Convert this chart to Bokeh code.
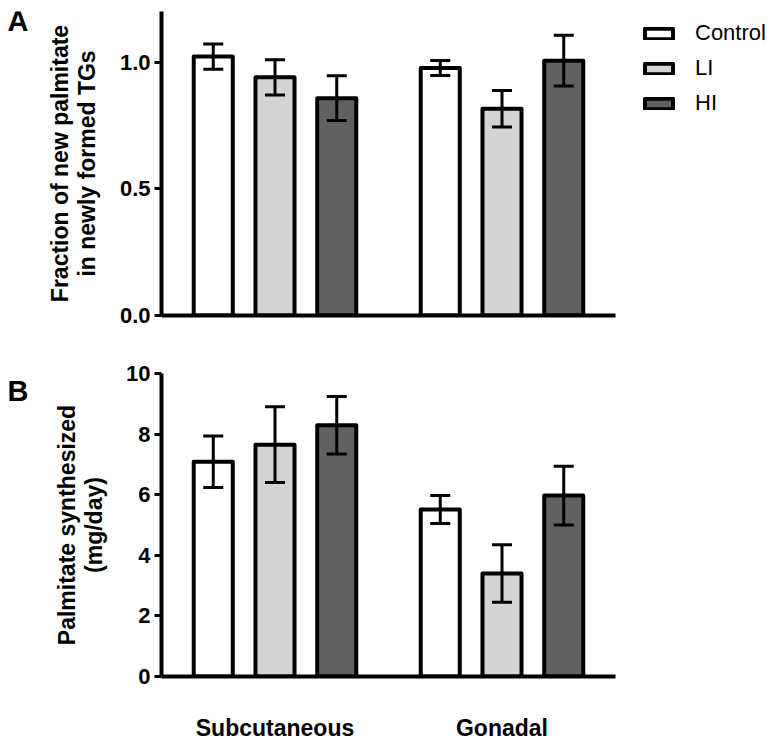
from bokeh.plotting import figure
from bokeh.models import (ColumnDataSource, FactorRange, Range1d, Whisker, TeeHead,
                          Legend, LegendItem, FixedTicker, NumeralTickFormatter)
from bokeh.transform import dodge
from bokeh.layouts import column, row
from bokeh.embed import file_html
from bokeh.resources import INLINE
from bokeh.core.properties import value

# ---------------- data ----------------
tissues = ["Subcutaneous", "Gonadal"]
groups = ["Control", "LI", "HI"]
fill_colors = ["#ffffff", "#d4d4d4", "#616161"]
offsets = [-0.272, 0.0, 0.272]

frac_control = [1.022, 0.977]
frac_control_err = [0.050, 0.030]
frac_li = [0.940, 0.816]
frac_li_err = [0.070, 0.072]
frac_hi = [0.858, 1.006]
frac_hi_err = [0.088, 0.100]

synth_control = [7.09, 5.51]
synth_control_err = [0.85, 0.46]
synth_li = [7.65, 3.40]
synth_li_err = [1.25, 0.95]
synth_hi = [8.29, 5.97]
synth_hi_err = [0.95, 0.97]

frac_ticks = [0.0, 0.5, 1.0]
synth_ticks = [0, 2, 4, 6, 8, 10]

panel_letters = ["A", "B"]

FONT = "Liberation Sans"
LETTER_W = 40


def letter_figure(letter, height, baseline_from_top):
    f = figure(width=LETTER_W, height=height, x_range=Range1d(0, LETTER_W),
               y_range=Range1d(0, height), min_border=0,
               output_backend="svg", toolbar_location=None)
    f.axis.visible = False
    f.grid.visible = False
    f.outline_line_color = None
    f.text(x=[7], y=[height - baseline_from_top], text=[letter], text_font=value(FONT),
           text_font_style="bold", text_font_size="29px", text_color="black",
           text_baseline="alphabetic", text_align="left")
    return f


def make_panel(means, errs, y_end, ticks, fmt, ylabel, top_border,
               frame_h, bottom_border, show_x_labels, with_legend, label_standoff):
    data = {"tissue": tissues}
    for g, m, e in zip(groups, means, errs):
        data[g] = m
        data[g + "_up"] = [a + b for a, b in zip(m, e)]
        data[g + "_lo"] = [a - b for a, b in zip(m, e)]
    src = ColumnDataSource(data)

    p = figure(x_range=FactorRange(factors=tissues, range_padding=0.0),
               y_range=Range1d(0, y_end),
               frame_width=454, frame_height=frame_h,
               min_border_left=161 - LETTER_W, min_border_top=top_border,
               min_border_bottom=bottom_border, min_border_right=10,
               output_backend="svg", toolbar_location=None,
               background_fill_color="white", border_fill_color="white")
    p.outline_line_color = None
    p.grid.visible = False

    renderers = []
    for g, off, col in zip(groups, offsets, fill_colors):
        r = p.vbar(x=dodge("tissue", off, range=p.x_range), top=g, width=0.172,
                   source=src, fill_color=col, line_color="black", line_width=4,
                   line_join="round")
        renderers.append(r)
        w = Whisker(base=dodge("tissue", off, range=p.x_range), upper=g + "_up",
                    lower=g + "_lo", source=src, level="annotation",
                    line_color="black", line_width=3,
                    upper_head=TeeHead(size=20, line_width=3, line_color="black"),
                    lower_head=TeeHead(size=20, line_width=3, line_color="black"))
        p.add_layout(w)

    # y axis
    yax = p.yaxis[0]
    yax.ticker = FixedTicker(ticks=ticks)
    yax.formatter = NumeralTickFormatter(format=fmt)
    yax.minor_tick_line_color = None
    yax.major_tick_out = 7
    yax.major_tick_in = 0
    yax.major_tick_line_width = 3
    yax.axis_line_width = 4
    yax.major_label_text_font = FONT
    yax.major_label_text_font_style = "bold"
    yax.major_label_text_font_size = "22px"
    yax.major_label_text_color = "black"
    yax.major_label_standoff = 4
    yax.axis_label = ylabel
    yax.axis_label_text_font = FONT
    yax.axis_label_text_font_style = "bold"
    yax.axis_label_text_font_size = "23px"
    yax.axis_label_text_color = "black"
    yax.axis_label_text_line_height = 1.05
    yax.axis_label_standoff = label_standoff

    # x axis
    xax = p.xaxis[0]
    xax.axis_line_width = 4
    xax.major_tick_line_color = None
    xax.minor_tick_line_color = None
    xax.major_tick_out = 0
    xax.major_tick_in = 0
    if show_x_labels:
        xax.major_label_text_font = FONT
        xax.major_label_text_font_style = "bold"
        xax.major_label_text_font_size = "23px"
        xax.major_label_text_color = "black"
        xax.major_label_standoff = 38
    else:
        xax.major_label_text_color = None
        xax.major_label_standoff = 0

    if with_legend:
        legend = Legend(items=[LegendItem(label=g, renderers=[r])
                               for g, r in zip(groups, renderers)],
                        location=(26, frame_h - 2 - 105), orientation="vertical",
                        glyph_width=35, glyph_height=13, label_height=30,
                        spacing=5, label_standoff=19, padding=0, margin=0,
                        border_line_color=None, background_fill_alpha=0,
                        label_text_font=FONT, label_text_font_size="22px",
                        label_text_color="black")
        p.add_layout(legend, "right")
        p.min_border_right = 175
    return p


pa = make_panel([frac_control, frac_li, frac_hi],
                [frac_control_err, frac_li_err, frac_hi_err],
                1.2, frac_ticks, "0.0",
                "Fraction of new palmitate\nin newly formed TGs",
                11, 304, 33, False, True, 17)

pb = make_panel([synth_control, synth_li, synth_hi],
                [synth_control_err, synth_li_err, synth_hi_err],
                10, synth_ticks, "0",
                "Palmitate synthesized\n(mg/day)",
                25, 303, 60, True, False, 16)

la = letter_figure(panel_letters[0], 11 + 304 + 33, 11)
lb = letter_figure(panel_letters[1], 25 + 303 + 60, 23)

layout = column(row(la, pa, spacing=0), row(lb, pb, spacing=0), spacing=0)
open("out.html", "w").write(file_html(layout, INLINE))
